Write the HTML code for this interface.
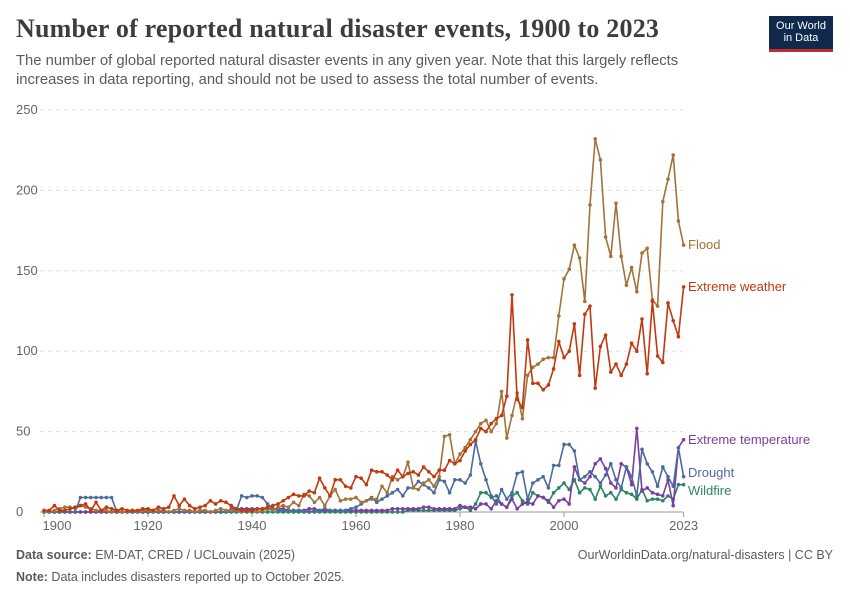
<!DOCTYPE html>
<html><head><meta charset="utf-8">
<style>
body{margin:0;background:#fff;font-family:"Liberation Sans",sans-serif;}
#wrap{position:relative;width:850px;height:600px;overflow:hidden;}
h1{position:absolute;left:16px;top:14px;margin:0;font-family:"Liberation Serif",serif;font-weight:bold;font-size:26px;color:#3d3d3d;letter-spacing:0.2px;}
.sub{position:absolute;left:16px;top:52px;width:700px;font-size:14.8px;line-height:19px;color:#5b5b5b;}
.logo{position:absolute;left:769px;top:16px;width:64px;height:36px;background:#0f2a4d;border-bottom:3px solid #c02b2b;color:#fff;font-size:11px;line-height:12px;text-align:center;padding-top:4px;box-sizing:border-box;}
.foot{position:absolute;font-size:12.5px;color:#5b5b5b;}
</style></head><body>
<div id="wrap">
<h1>Number of reported natural disaster events, 1900 to 2023</h1>
<div class="sub">The number of global reported natural disaster events in any given year. Note that this largely reflects increases in data reporting, and should not be used to assess the total number of events.</div>
<div class="logo">Our World<br>in Data</div>
<svg id="chart" width="850" height="600" style="position:absolute;left:0;top:0"></svg>
<div class="foot" style="left:16px;top:548px"><b>Data source:</b> EM-DAT, CRED / UCLouvain (2025)</div>
<div class="foot" style="right:17px;top:548px">OurWorldinData.org/natural-disasters | CC BY</div>
<div class="foot" style="left:16px;top:570px"><b>Note:</b> Data includes disasters reported up to October 2025.</div>
</div>
<script>
const startYear = 1900;
const yTicks = [0,50,100,150,200,250];
const xTicks = [1900,1920,1940,1960,1980,2000,2023];
const flood = [0,0,1,2,3,3,2,4,3,2, 1,1,1,0,1,0,0,1,0,1, 1,0,1,1,0,1,2,1,1,0, 1,1,0,1,2,1,1,1,0,1, 1,0,1,2,1,3,4,3,6,4, 11,10,6,9,4,10,14,7,8,8, 9,6,7,8,8,16,12,22,20,22, 31,15,14,18,20,16,22,47,48,30, 36,40,45,50,55,57,50,55,75,46, 60,74,58,85,90,92,95,96,96,122, 145,151,166,158,131,191,232,219,171,159, 192,159,141,152,137,161,164,132,128,193, 207,222,181,166];
const extremeWeather = [1,1,4,1,1,2,3,4,5,1, 6,1,3,2,1,2,1,1,1,2, 2,1,3,2,3,10,4,8,4,2, 3,4,7,5,7,6,4,2,1,1, 1,2,2,3,4,5,7,9,11,10, 10,13,12,21,15,10,20,20,16,15, 22,21,17,26,25,25,23,20,26,22, 24,25,23,28,25,22,26,26,32,30, 32,38,42,45,52,50,55,58,60,72, 135,70,65,107,80,80,76,79,89,106, 96,100,117,85,123,128,77,103,110,87, 92,85,92,105,100,120,86,131,97,93, 130,119,109,140];
const drought = [0,0,0,0,0,0,0,9,9,9, 9,9,9,9,0,0,0,0,0,0, 0,0,0,0,0,0,0,0,0,0, 0,0,0,0,0,0,0,1,10,9, 10,10,9,5,2,1,1,1,1,1, 1,0,1,1,2,1,1,1,1,2, 3,5,7,9,6,8,10,12,14,10, 15,15,19,17,15,12,20,19,12,20, 20,18,23,44,30,20,10,5,14,8, 12,24,25,8,18,20,22,15,29,29, 42,42,38,20,22,25,22,18,23,30, 20,15,28,22,10,39,30,25,16,28, 22,16,40,22];
const extremeTemp = [0,0,0,0,0,0,0,0,0,0, 0,0,0,0,0,0,0,0,0,0, 0,0,0,0,0,0,0,0,0,0, 0,0,0,0,0,0,2,2,2,2, 2,2,2,2,2,2,2,1,1,1, 1,2,2,1,1,1,1,1,1,1, 1,1,1,1,1,1,1,2,2,2, 2,2,2,3,3,2,2,2,2,2, 4,3,3,2,5,5,2,7,5,3, 8,2,5,6,5,10,9,7,3,7, 8,5,28,20,18,22,30,33,27,18, 15,30,28,17,52,13,15,12,11,10, 20,4,40,45];
const wildfire = [0,0,0,0,0,0,0,0,0,0, 0,0,0,0,0,0,0,0,0,0, 0,0,0,0,0,0,0,0,0,0, 0,0,0,0,0,0,0,0,0,0, 0,0,0,0,0,0,0,0,0,0, 0,0,0,0,0,0,0,0,0,0, 0,0,0,0,0,0,0,0,0,0, 1,1,1,1,1,1,1,1,1,1, 2,3,1,5,12,12,9,10,5,3, 10,12,7,5,12,10,9,6,12,15, 18,14,20,12,15,14,8,16,10,12, 8,14,12,11,8,14,7,8,8,7, 10,8,17,17];
const seriesNames = ["Flood","Extreme weather","Extreme temperature","Drought","Wildfire"];

const svg = document.getElementById('chart');
const NS = 'http://www.w3.org/2000/svg';
const x = yr => 44 + (yr - 1900) * 5.2;
const y = v => 512 - v * 1.608;
function mk(tag, attrs){const e=document.createElementNS(NS,tag);for(const k in attrs)e.setAttribute(k,attrs[k]);svg.appendChild(e);return e;}

yTicks.forEach(t=>{
  const l = mk('line',{x1:40,x2:683,y1:y(t),y2:y(t),stroke:t===0?'#999':'#ddd','stroke-dasharray':t===0?'':'4,4'});
  
  
  const tx = mk('text',{x:16,y:y(t)+4,'font-size':13,fill:'#666','font-family':'Liberation Sans, sans-serif'});
  tx.textContent = t;
  
  
});
xTicks.forEach(t=>{
  const l = mk('line',{x1:x(t),x2:x(t),y1:512,y2:517,stroke:'#999'});
  
  
  const tx = mk('text',{x:t===1900?x(t)+13:x(t),y:530,'font-size':13,fill:'#666','text-anchor':'middle','font-family':'Liberation Sans, sans-serif'});
  tx.textContent = t;
  
  
});

const datasets = [flood, extremeWeather, extremeTemp, drought, wildfire];
const colors = ['#a2733a','#c0390f','#7b3ea0','#4c6a9c','#2b8465'];
const labelY = [245,287,440,473,491];
const order = [4,2,3,0,1];
order.forEach(i=>{
  const d = datasets[i];
  const pts = d.map((v,k)=>x(startYear+k).toFixed(1)+','+y(v).toFixed(1)).join(' ');
  const pl = mk('polyline',{points:pts,fill:'none',stroke:colors[i],'stroke-width':1.6,'stroke-linejoin':'round'});
  
  
  d.forEach((v,k)=>{
    const c = mk('circle',{cx:x(startYear+k),cy:y(v),r:1.8,fill:colors[i]});
    
    
  });
});
seriesNames.forEach((n,i)=>{
  const tx = mk('text',{x:688,y:labelY[i]+4,'font-size':13,fill:colors[i],'font-family':'Liberation Sans, sans-serif'});
  tx.textContent = n;
  
  
});
</script>
</body></html>
